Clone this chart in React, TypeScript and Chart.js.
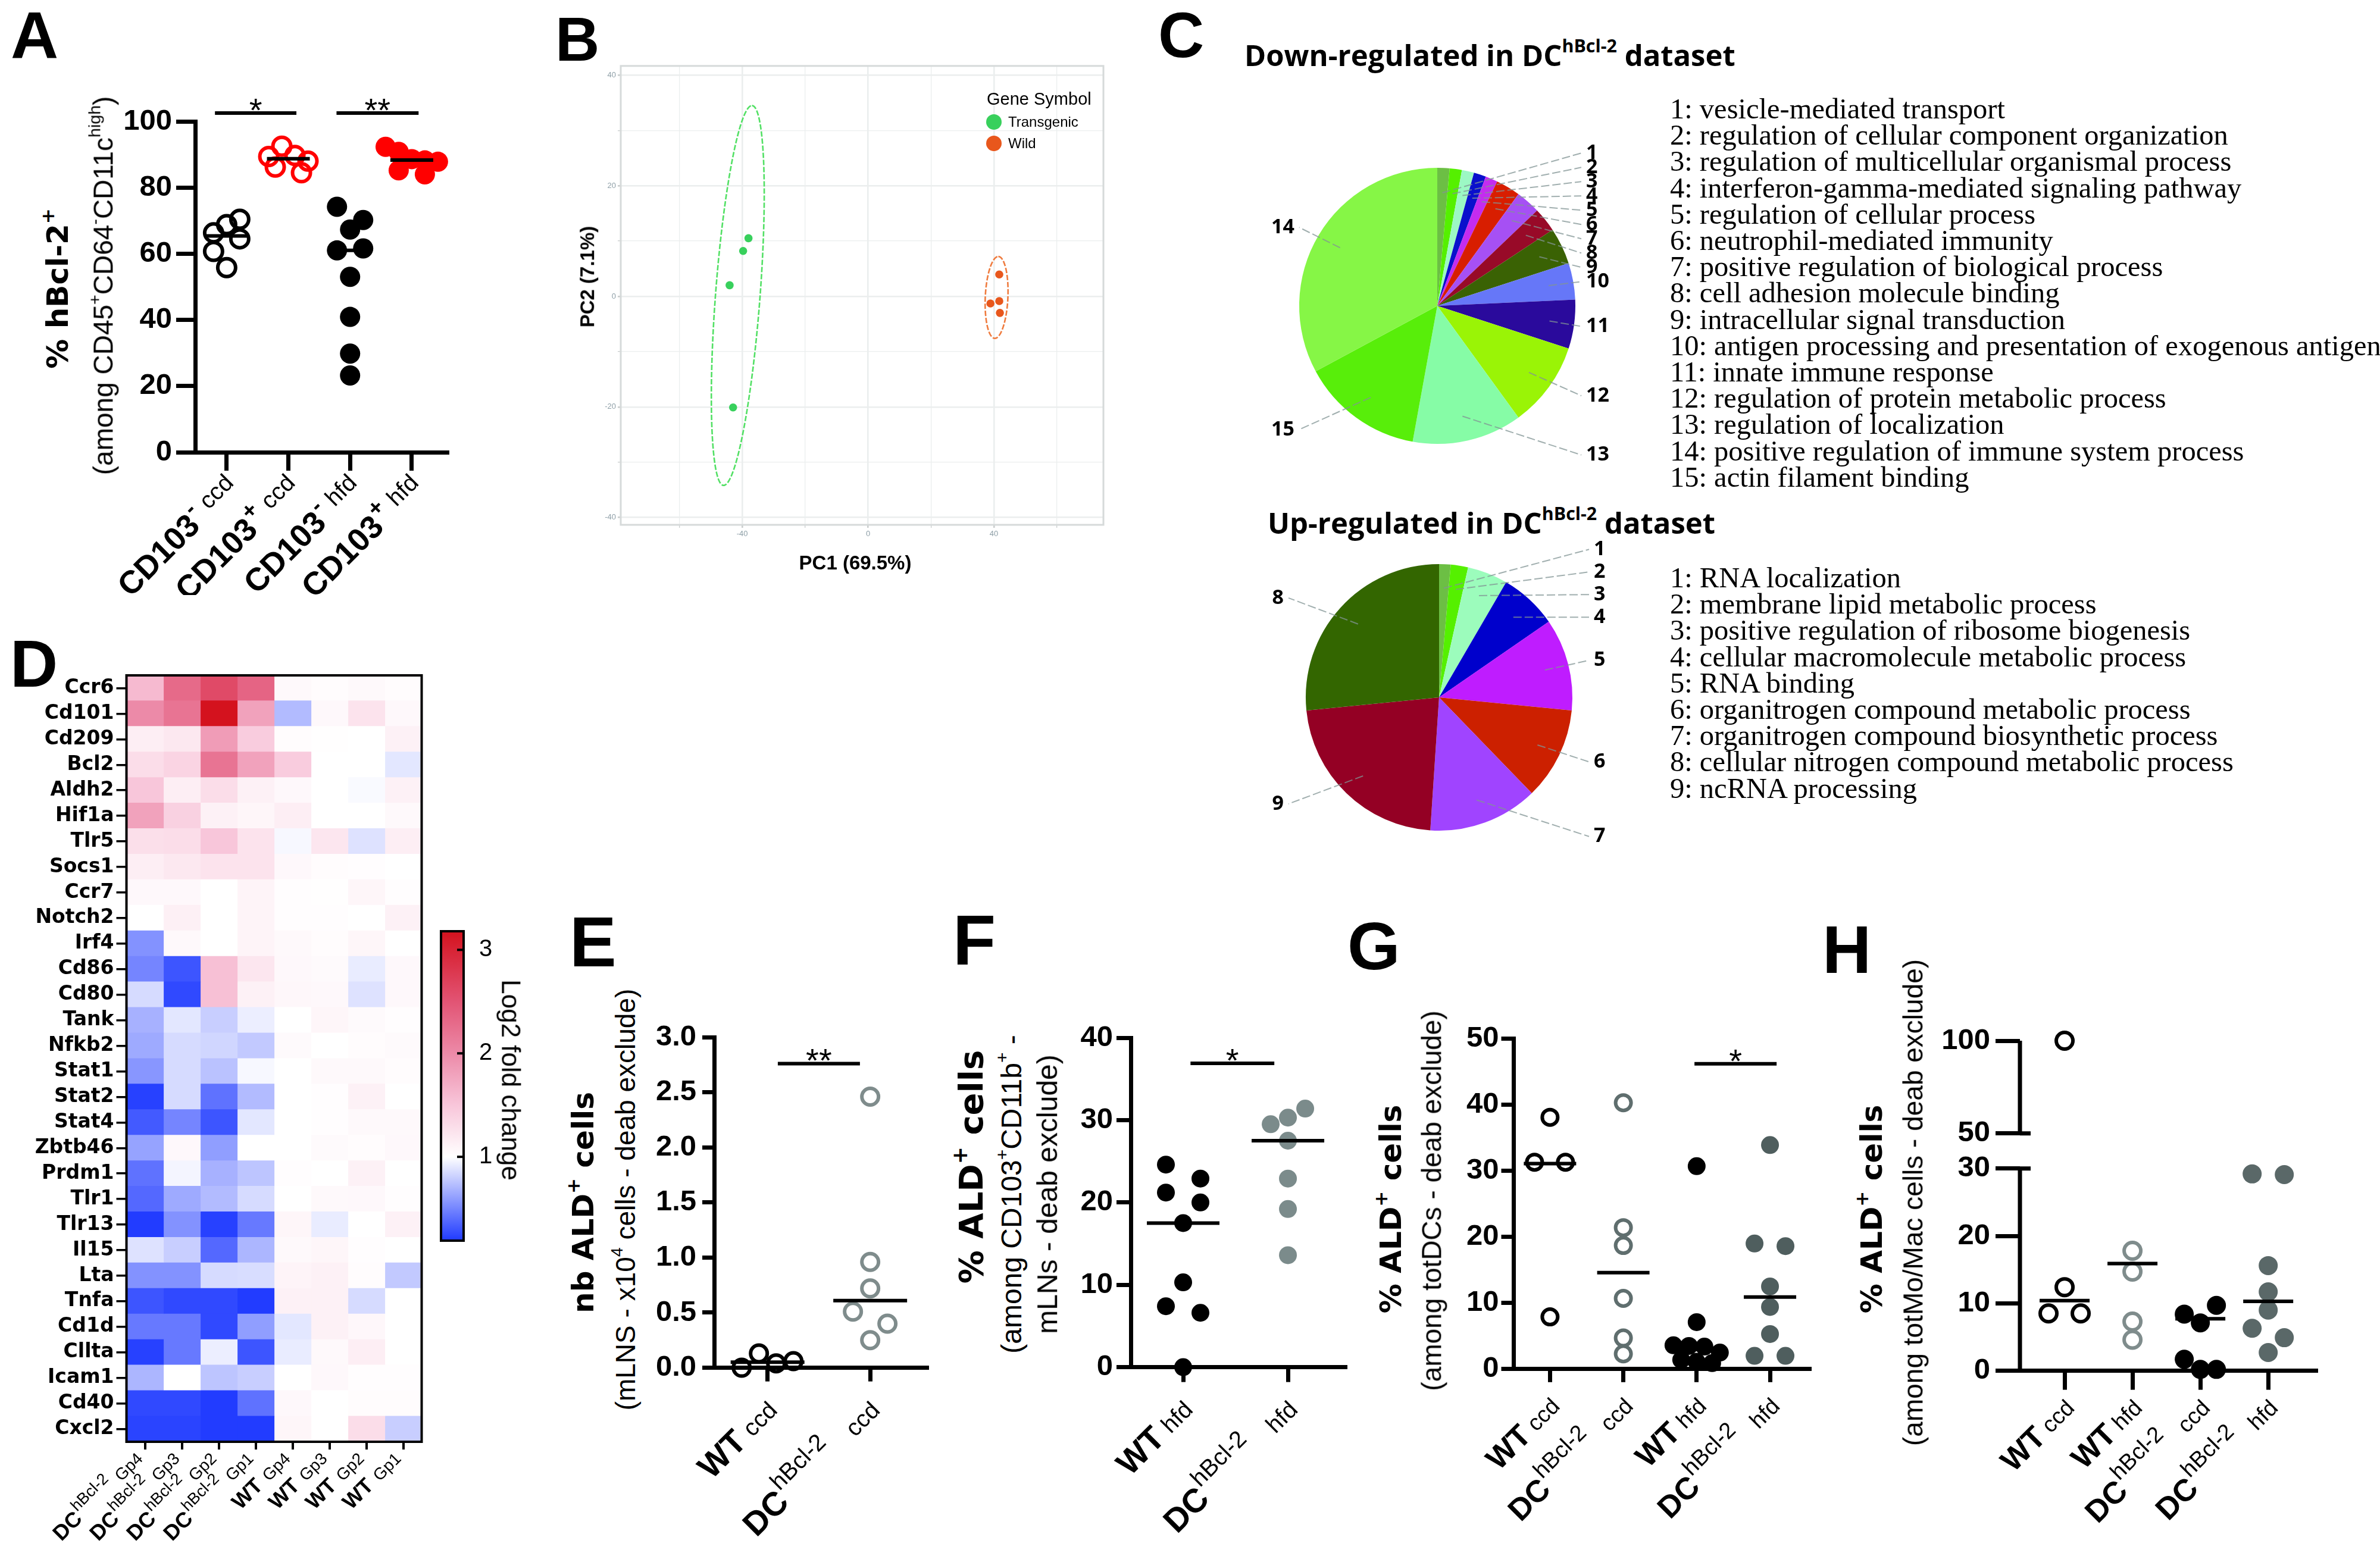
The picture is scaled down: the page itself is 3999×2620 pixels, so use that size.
import React, { useEffect, useRef } from 'react';
import { Chart, registerables } from 'chart.js';
Chart.register(...registerables);

const SANS = "'Liberation Sans', Arial, Helvetica, sans-serif";
const DEJAVU = "'DejaVu Sans', 'Liberation Sans', sans-serif";
const SERIF = "'Liberation Serif', 'Times New Roman', serif";
const OPEN = "'Open Sans', 'Liberation Sans', sans-serif";

// ---------------- Panel A ----------------
const aCd103NegCcd = [66.3, 68.8, 70.4, 60.7, 64.5, 55.8];
const aCd103PosCcd = [89.4, 92.5, 89.7, 88.0, 86.2, 84.5];
const aCd103NegHfd = [74.2, 67.3, 70.2, 61.0, 61.6, 53.0, 40.9, 29.8, 23.2];
const aCd103PosHfd = [92.3, 90.8, 88.6, 88.2, 87.8, 85.2, 84.0];
const aMedians = [65.4, 88.7, 61.0, 88.3];
const aTickMain = ['CD103', 'CD103', 'CD103', 'CD103'];
const aTickSup = ['-', '+', '-', '+'];
const aTickDiet = ['ccd', 'ccd', 'hfd', 'hfd'];
const aYTicks = [0, 20, 40, 60, 80, 100];
const aSig = [
  { from: -0.19, to: 1.13, y: 102.5, text: '*' },
  { from: 1.78, to: 3.11, y: 102.5, text: '**' },
];

// ---------------- Panel B ----------------
const bTransgenicPC1 = [-38.0, -39.7, -44.0, -42.9];
const bTransgenicPC2 = [10.5, 8.2, 2.0, -20.1];
const bWildPC1 = [41.7, 38.9, 41.7, 41.9];
const bWildPC2 = [3.95, -1.3, -0.86, -3.0];
const bXTicks = [-60, -40, -20, 0, 20, 40, 60];
const bYTicks = [-40, -30, -20, -10, 0, 10, 20, 30, 40];
const bEllipseTransgenic = { cx: -41.4, cy: 0.15, ux: 4.5, uy: 34.35, vx: 7.1, vy: 0 };
const bEllipseWild = { cx: 40.85, cy: -0.2, ux: 0.55, uy: 7.4, vx: 3.6, vy: 0 };

// ---------------- Panel C ----------------
const cDownTerms = [
  'vesicle-mediated transport',
  'regulation of cellular component organization',
  'regulation of multicellular organismal process',
  'interferon-gamma-mediated signaling pathway',
  'regulation of cellular process',
  'neutrophil-mediated immunity',
  'positive regulation of biological process',
  'cell adhesion molecule binding',
  'intracellular signal transduction',
  'antigen processing and presentation of exogenous antigen',
  'innate immune response',
  'regulation of protein metabolic process',
  'regulation of localization',
  'positive regulation of immune system process',
  'actin filament binding',
];
const cDownSliceIds = [1, 2, 3, 4, 5, 6, 7, 8, 9, 10, 11, 12, 13, 15, 14];
const cDownCounts = [1, 1, 1, 1, 1, 2, 2, 2, 3, 3, 4, 7, 9, 10, 23];
const cDownColors = ['#6cbf44', '#55f000', '#9cf8c4', '#0a10cc', '#c42cf0', '#d81e00', '#a650f4', '#980a28', '#3a6204', '#6677f8', '#2a0a9c', '#9af406', '#86fca6', '#58ee0a', '#86f646'];
const cUpTerms = [
  'RNA localization',
  'membrane lipid metabolic process',
  'positive regulation of ribosome biogenesis',
  'cellular macromolecule metabolic process',
  'RNA binding',
  'organitrogen compound metabolic process',
  'organitrogen compound biosynthetic process',
  'cellular nitrogen compound metabolic process',
  'ncRNA processing',
];
const cUpSliceIds = [1, 2, 3, 4, 5, 6, 7, 9, 8];
const cUpCounts = [2, 3, 7, 10, 16, 16, 19, 32, 38];
const cUpColors = ['#6cbf44', '#55f000', '#9cfcbc', '#0000cc', '#bf1cff', '#cc2000', '#a044ff', '#940024', '#336600'];

// ---------------- Panel D ----------------
const heatGenes = ['Ccr6', 'Cd101', 'Cd209', 'Bcl2', 'Aldh2', 'Hif1a', 'Tlr5', 'Socs1', 'Ccr7', 'Notch2', 'Irf4', 'Cd86', 'Cd80', 'Tank', 'Nfkb2', 'Stat1', 'Stat2', 'Stat4', 'Zbtb46', 'Prdm1', 'Tlr1', 'Tlr13', 'Il15', 'Lta', 'Tnfa', 'Cd1d', 'Cllta', 'Icam1', 'Cd40', 'Cxcl2'];
const dcGp4 = [1.6, 2.0, 1.15, 1.3, 1.5, 1.8, 1.28, 1.15, 1.06, 1.0, 0.55, 0.5, 0.85, 0.68, 0.65, 0.57, 0.22, 0.32, 0.62, 0.42, 0.38, 0.2, 0.88, 0.55, 0.3, 0.45, 0.22, 0.7, 0.25, 0.23];
const dcGp3 = [2.3, 2.2, 1.2, 1.38, 1.15, 1.4, 1.3, 1.2, 1.06, 1.13, 1.05, 0.3, 0.25, 0.9, 0.85, 0.85, 0.85, 0.5, 1.06, 0.96, 0.65, 0.55, 0.8, 0.55, 0.25, 0.45, 0.45, 1.0, 0.25, 0.23];
const dcGp2 = [2.6, 3.2, 1.85, 2.2, 1.3, 1.12, 1.5, 1.25, 1.0, 1.0, 1.0, 1.55, 1.55, 0.8, 0.83, 0.75, 0.42, 0.3, 0.6, 0.68, 0.72, 0.22, 0.38, 0.85, 0.25, 0.25, 0.93, 0.76, 0.2, 0.2];
const dcGp1 = [2.35, 1.8, 1.45, 1.8, 1.12, 1.08, 1.25, 1.25, 1.1, 1.1, 1.1, 1.22, 1.12, 0.93, 0.78, 0.97, 0.72, 0.9, 1.0, 0.76, 0.85, 0.45, 0.7, 0.86, 0.2, 0.6, 0.3, 0.8, 0.42, 0.2];
const wtGp4 = [1.05, 0.72, 1.03, 1.45, 1.06, 1.15, 0.97, 1.06, 1.02, 1.02, 1.05, 1.06, 1.07, 1.0, 1.04, 1.0, 1.0, 1.0, 1.0, 1.02, 1.0, 1.08, 1.05, 1.1, 1.12, 0.9, 0.92, 1.0, 1.06, 1.08];
const wtGp3 = [1.03, 1.06, 1.01, 1.0, 1.0, 1.0, 1.22, 1.03, 1.01, 1.02, 1.03, 1.04, 1.06, 1.08, 1.0, 1.05, 1.02, 1.02, 1.04, 1.0, 1.05, 0.92, 1.08, 1.12, 1.12, 1.12, 1.05, 1.06, 1.0, 1.0];
const wtGp2 = [1.05, 1.25, 1.0, 1.0, 0.98, 1.0, 0.88, 1.02, 1.08, 1.0, 1.08, 0.92, 0.88, 1.04, 1.03, 1.05, 1.12, 1.05, 1.03, 1.12, 1.06, 1.0, 1.02, 1.03, 0.85, 1.07, 1.15, 1.02, 1.03, 1.3];
const wtGp1 = [1.03, 1.06, 1.12, 0.9, 1.12, 1.05, 1.15, 1.0, 1.02, 1.12, 1.0, 1.06, 1.06, 1.02, 1.04, 1.03, 1.0, 1.05, 1.06, 1.0, 1.02, 1.12, 1.0, 0.78, 1.0, 1.0, 1.0, 1.02, 1.03, 0.8];
const heatColMain = ['DC', 'DC', 'DC', 'DC', 'WT', 'WT', 'WT', 'WT'];
const heatColSup = ['hBcl-2', 'hBcl-2', 'hBcl-2', 'hBcl-2', '', '', '', ''];
const heatColGroup = ['Gp4', 'Gp3', 'Gp2', 'Gp1', 'Gp4', 'Gp3', 'Gp2', 'Gp1'];
const cbMin = 0.19;
const cbMax = 3.18;
const cbTicks = [1, 2, 3];
const heatStops: [number, number[]][] = [
  [0.19, [31, 58, 255]],
  [1.0, [255, 255, 255]],
  [1.5, [248, 198, 218]],
  [2.0, [236, 138, 168]],
  [2.5, [226, 84, 116]],
  [3.18, [212, 18, 30]],
];

// ---------------- Panel E ----------------
const eWtCcd = [0.0, 0.13, 0.04, 0.06];
const eDcCcd = [2.46, 0.96, 0.72, 0.51, 0.40, 0.25];
const eMedians = [0.05, 0.61];
const eTickMain = ['WT', 'DC'];
const eTickSup = ['', 'hBcl-2'];
const eTickDiet = ['ccd', 'ccd'];
const eYTicks = [0, 0.5, 1.0, 1.5, 2.0, 2.5, 3.0];
const eSig = [{ from: 0.1, to: 0.9, y: 2.76, text: '**' }];

// ---------------- Panel F ----------------
const fWtHfd = [24.6, 22.9, 21.2, 20.0, 17.5, 10.3, 7.4, 6.6, 0.0];
const fDcHfd = [29.5, 30.3, 31.4, 27.5, 22.9, 19.2, 13.6];
const fMedians = [17.5, 27.5];
const fTickMain = ['WT', 'DC'];
const fTickSup = ['', 'hBcl-2'];
const fTickDiet = ['hfd', 'hfd'];
const fYTicks = [0, 10, 20, 30, 40];
const fSig = [{ from: 0.07, to: 0.87, y: 36.9, text: '*' }];

// ---------------- Panel G ----------------
const gWtCcd = [31.3, 38.1, 31.3, 7.9];
const gDcCcd = [40.3, 21.4, 18.7, 10.7, 4.7, 2.3];
const gWtHfd = [30.7, 7.1, 3.6, 3.5, 3.4, 2.5, 1.4, 1.1, 0.9];
const gDcHfd = [33.9, 19.0, 18.6, 12.5, 9.4, 5.3, 2.0, 2.0];
const gMedians = [31.1, 14.6, 2.95, 10.9];
const gTickMain = ['WT', 'DC', 'WT', 'DC'];
const gTickSup = ['', 'hBcl-2', '', 'hBcl-2'];
const gTickDiet = ['ccd', 'ccd', 'hfd', 'hfd'];
const gYTicks = [0, 10, 20, 30, 40, 50];
const gSig = [{ from: 1.97, to: 3.09, y: 46.2, text: '*' }];

// ---------------- Panel H ----------------
const hWtCcd = [12.4, 8.5, 8.5, 100];
const hWtHfd = [17.8, 14.7, 7.3, 4.6];
const hDcCcd = [8.4, 9.7, 7.1, 1.7, 0.2, 0.2];
const hDcHfd = [29.2, 29.1, 15.6, 11.7, 9.0, 6.3, 4.9, 2.7];
const hMedians = [10.4, 15.9, 7.7, 10.3];
const hTickMain = ['WT', 'WT', 'DC', 'DC'];
const hTickSup = ['', '', 'hBcl-2', 'hBcl-2'];
const hTickDiet = ['ccd', 'hfd', 'ccd', 'hfd'];
const hLowTicks = [0, 10, 20, 30];
const hHighTicks = [50, 100];

// ---------------- helpers ----------------
function heatColor(v: number) {
  const x = Math.max(heatStops[0][0], Math.min(heatStops[heatStops.length - 1][0], v));
  for (let i = 0; i < heatStops.length - 1; i++) {
    const [v0, c0] = heatStops[i];
    const [v1, c1] = heatStops[i + 1];
    if (x >= v0 && x <= v1) {
      const t = (x - v0) / (v1 - v0);
      const c = c0.map((k, j) => Math.round(k + (c1[j] - k) * t));
      return `rgb(${c[0]},${c[1]},${c[2]})`;
    }
  }
  return '#fff';
}

function swarm(values: number[], pxPerUnit: number, thresh: number, step: number) {
  const order = values.map((_, i) => i).sort((a, b) => values[b] - values[a]);
  const rows: number[][] = [];
  let cur: number[] = [];
  let start = 0;
  order.forEach((i) => {
    if (cur.length && (start - values[i]) * pxPerUnit < thresh) cur.push(i);
    else {
      if (cur.length) rows.push(cur);
      cur = [i];
      start = values[i];
    }
  });
  if (cur.length) rows.push(cur);
  const off = new Array(values.length).fill(0);
  rows.forEach((r) => {
    const m = [...r].sort((a, b) => a - b);
    const n = m.length;
    m.forEach((idx, k) => {
      off[idx] = n === 2 ? (k === 0 ? -step : step) : (k - (n - 1) / 2) * step;
    });
  });
  return off;
}

type Seg = { text: string; font: string; dy?: number; gap?: number };
function drawRich(ctx: any, x: number, y: number, segs: Seg[], angle: number) {
  ctx.save();
  ctx.translate(x, y);
  ctx.rotate(angle);
  ctx.textAlign = 'left';
  ctx.textBaseline = 'alphabetic';
  ctx.fillStyle = '#000';
  const widths = segs.map((s) => {
    ctx.font = s.font;
    return ctx.measureText(s.text).width;
  });
  const total = segs.reduce((acc, s, i) => acc + (s.gap || 0) + widths[i], 0);
  let cx = -total;
  segs.forEach((s, i) => {
    cx += s.gap || 0;
    ctx.font = s.font;
    ctx.fillText(s.text, cx, s.dy || 0);
    cx += widths[i];
  });
  ctx.restore();
}

function labelSegs(main: string, sup: string, diet: string, st: any): Seg[] {
  const segs: Seg[] = [{ text: main, font: st.main }];
  if (sup) segs.push({ text: sup, font: st.sup, dy: st.supDy, gap: 2 });
  segs.push({ text: diet, font: st.diet, dy: st.dietDy, gap: sup ? st.gapSup : st.gapNoSup });
  return segs;
}

const styleA = { main: `bold 54px ${SANS}`, sup: `bold 38px ${SANS}`, diet: `40px ${SANS}`, supDy: -24, dietDy: -12, gapSup: 14, gapNoSup: 14, dx: 22, dy: 62 };
const styleEF = { main: `bold 56px ${SANS}`, sup: `40px ${SANS}`, diet: `40px ${SANS}`, supDy: -28, dietDy: -2, gapSup: 40, gapNoSup: 12, dx: 20, dy: 75 };
const styleGH = { main: `bold 52px ${SANS}`, sup: `38px ${SANS}`, diet: `38px ${SANS}`, supDy: -26, dietDy: -2, gapSup: 28, gapNoSup: 10, dx: 20, dy: 66 };
const styleD = { main: `bold 36px ${SANS}`, sup: `27px ${SANS}`, diet: `28px ${SANS}`, supDy: -17, dietDy: 0, gapSup: 12, gapNoSup: 12, dx: -2, dy: 30 };

const baseOpts = {
  animation: false,
  responsive: false,
  devicePixelRatio: 1,
  events: [],
};

// ---------------- scatter panels ----------------
function scatterConfig(s: any) {
  const [bl, bt, bw, bh] = s.box;
  const [al, at, ar, ab] = s.area;
  const br = s.broken;
  const yPx = br ? br.lowPx / br.lowMax : (ab - at) / (s.yMax - s.yMin);
  const datasets: any[] = [];
  s.groups.forEach((g: any, gi: number) => {
    const offs = swarm(g.values, yPx, s.swarmThresh, s.swarmStep);
    const pts = g.values.map((v: number, i: number) => ({ x: gi + offs[i] / s.catPx, y: v }));
    const st = {
      pointRadius: g.r,
      pointHoverRadius: g.r,
      pointBackgroundColor: g.filled ? g.color : 'rgba(0,0,0,0)',
      pointBorderColor: g.color,
      pointBorderWidth: g.filled ? 0 : g.bw,
      clip: false,
      showLine: false,
    };
    if (br) {
      datasets.push({ data: pts.filter((p: any) => p.y <= br.lowMax), yAxisID: 'y', ...st });
      datasets.push({ data: pts.filter((p: any) => p.y > br.lowMax), yAxisID: 'yHigh', ...st });
    } else datasets.push({ data: pts, ...st });
  });

  const yAxis = (min: number, max: number, ticks: number[], extra: any) => ({
    type: 'linear',
    position: 'left',
    min,
    max,
    afterBuildTicks: (sc: any) => {
      sc.ticks = ticks.map((v) => ({ value: v }));
    },
    afterFit: (sc: any) => {
      sc.width = al - bl;
    },
    grid: { display: true, drawOnChartArea: false, drawTicks: true, tickLength: s.yTickLen, lineWidth: 7, tickWidth: 7, color: '#000', tickColor: '#000' },
    border: { display: !br, width: 7, color: '#000' },
    ticks: { font: { family: SANS, weight: 'bold', size: 49 }, color: '#000', padding: s.yTickPad, autoSkip: false, callback: (v: any) => s.fmt(Number(v)) },
    ...extra,
  });

  const scales: any = {
    x: {
      type: 'linear',
      position: 'bottom',
      min: s.xMin,
      max: s.xMax,
      afterBuildTicks: (sc: any) => {
        sc.ticks = s.ticks.main.map((_: any, i: number) => ({ value: i }));
      },
      afterFit: (sc: any) => {
        sc.height = bt + bh - ab;
      },
      grid: { display: true, drawOnChartArea: false, drawTicks: true, tickLength: s.xTickLen, lineWidth: 7, tickWidth: 7, color: '#000', tickColor: '#000' },
      border: { display: true, width: 7, color: '#000' },
      ticks: { display: false },
    },
  };
  if (br) {
    scales.y = yAxis(0, br.lowMax, br.lowTicks, { stack: 'brk', stackWeight: br.lowPx });
    scales.yHigh = yAxis(br.highMin, br.highMax, br.highTicks, { stack: 'brk', stackWeight: br.highPx });
  } else {
    scales.y = yAxis(s.yMin, s.yMax, s.yTicks, {});
  }

  const deco = {
    id: 'deco',
    afterDatasetsDraw(chart: any) {
      const { ctx, chartArea: a } = chart;
      const xs = chart.scales.x;
      const ys = chart.scales.y;
      ctx.save();
      ctx.strokeStyle = '#000';
      ctx.fillStyle = '#000';
      ctx.lineCap = 'butt';
      if (br) {
        const yh = chart.scales.yHigh;
        ctx.lineWidth = 7;
        ctx.beginPath();
        ctx.moveTo(a.left, ys.getPixelForValue(0) + 3.5);
        ctx.lineTo(a.left, ys.getPixelForValue(br.lowMax));
        ctx.moveTo(a.left, yh.getPixelForValue(br.highTicks[0]));
        ctx.lineTo(a.left, yh.getPixelForValue(br.highMax));
        ctx.stroke();
        ctx.beginPath();
        ctx.moveTo(a.left, ys.getPixelForValue(br.lowMax));
        ctx.lineTo(a.left + 18, ys.getPixelForValue(br.lowMax));
        ctx.moveTo(a.left, yh.getPixelForValue(br.highTicks[0]));
        ctx.lineTo(a.left + 18, yh.getPixelForValue(br.highTicks[0]));
        ctx.stroke();
      }
      s.medians.forEach((m: number, i: number) => {
        const py = ys.getPixelForValue(m);
        const px = xs.getPixelForValue(i);
        ctx.lineWidth = 6;
        ctx.beginPath();
        ctx.moveTo(px - s.medHalf, py);
        ctx.lineTo(px + s.medHalf, py);
        ctx.stroke();
      });
      s.sig.forEach((g: any) => {
        const py = ys.getPixelForValue(g.y);
        ctx.lineWidth = 6;
        ctx.beginPath();
        ctx.moveTo(xs.getPixelForValue(g.from), py);
        ctx.lineTo(xs.getPixelForValue(g.to), py);
        ctx.stroke();
        ctx.font = `56px ${SANS}`;
        ctx.textAlign = 'center';
        ctx.textBaseline = 'alphabetic';
        ctx.fillText(g.text, xs.getPixelForValue((g.from + g.to) / 2), py + 14);
      });
      const lab = s.label;
      s.ticks.main.forEach((m: string, i: number) => {
        drawRich(ctx, xs.getPixelForValue(i) + lab.dx, a.bottom + lab.dy, labelSegs(m, s.ticks.sup[i], s.ticks.diet[i], lab), -Math.PI / 4);
      });
      ctx.restore();
    },
  };

  return {
    type: 'scatter',
    data: { datasets },
    options: {
      ...baseOpts,
      layout: { padding: { left: 0, top: at - bt, right: bl + bw - ar, bottom: 0 } },
      plugins: { legend: { display: false }, tooltip: { enabled: false } },
      scales,
    },
    plugins: [deco],
  };
}

const specA = {
  box: [190, 150, 600, 850], area: [328, 204, 751, 760],
  xMin: -0.51, xMax: 3.57, catPx: 103.7,
  yMin: 0, yMax: 100, yTicks: aYTicks, fmt: (v: number) => String(v),
  yTickLen: 32, yTickPad: 7, xTickLen: 31,
  groups: [
    { values: aCd103NegCcd, color: '#000000', filled: false, r: 15, bw: 6 },
    { values: aCd103PosCcd, color: '#ff0000', filled: false, r: 15, bw: 6 },
    { values: aCd103NegHfd, color: '#000000', filled: true, r: 17 },
    { values: aCd103PosHfd, color: '#ff0000', filled: true, r: 17 },
  ],
  medians: aMedians, medHalf: 36, sig: aSig,
  ticks: { main: aTickMain, sup: aTickSup, diet: aTickDiet }, label: styleA,
  swarmStep: 22, swarmThresh: 30,
};
const specE = {
  box: [1080, 1700, 500, 920], area: [1200, 1743, 1557, 2298.6],
  xMin: -0.52, xMax: 1.55, catPx: 172.6,
  yMin: 0, yMax: 3, yTicks: eYTicks, fmt: (v: number) => v.toFixed(1),
  yTickLen: 20, yTickPad: 10, xTickLen: 23,
  groups: [
    { values: eWtCcd, color: '#000000', filled: false, r: 14, bw: 6 },
    { values: eDcCcd, color: '#7f8c8c', filled: false, r: 14, bw: 6 },
  ],
  medians: eMedians, medHalf: 62, sig: eSig,
  ticks: { main: eTickMain, sup: eTickSup, diet: eTickDiet }, label: styleEF,
  swarmStep: 29, swarmThresh: 26,
};
const specF = {
  box: [1780, 1700, 500, 920], area: [1900, 1744, 2260, 2297.6],
  xMin: -0.5, xMax: 1.545, catPx: 176,
  yMin: 0, yMax: 40, yTicks: fYTicks, fmt: (v: number) => String(v),
  yTickLen: 24, yTickPad: 6, xTickLen: 25,
  groups: [
    { values: fWtHfd, color: '#000000', filled: true, r: 15 },
    { values: fDcHfd, color: '#7b8b8b', filled: true, r: 15 },
  ],
  medians: fMedians, medHalf: 61, sig: fSig,
  ticks: { main: fTickMain, sup: fTickSup, diet: fTickDiet }, label: styleEF,
  swarmStep: 29, swarmThresh: 29,
};
const specG = {
  box: [2430, 1700, 630, 920], area: [2543.5, 1745.5, 3040.6, 2300.8],
  xMin: -0.494, xMax: 3.54, catPx: 123.3,
  yMin: 0, yMax: 50, yTicks: gYTicks, fmt: (v: number) => String(v),
  yTickLen: 21, yTickPad: 4, xTickLen: 22,
  groups: [
    { values: gWtCcd, color: '#000000', filled: false, r: 13, bw: 6 },
    { values: gDcCcd, color: '#5f6e6e', filled: false, r: 13, bw: 6 },
    { values: gWtHfd, color: '#000000', filled: true, r: 15 },
    { values: gDcHfd, color: '#4f5e5e', filled: true, r: 15 },
  ],
  medians: gMedians, medHalf: 44, sig: gSig,
  ticks: { main: gTickMain, sup: gTickSup, diet: gTickDiet }, label: styleGH,
  swarmStep: 26, swarmThresh: 24,
};
const specH = {
  box: [3240, 1700, 680, 920], area: [3394, 1749, 3891, 2303.6],
  xMin: -0.658, xMax: 3.7, catPx: 114,
  broken: { lowMax: 30, lowTicks: hLowTicks, lowPx: 339.6, highMin: 31.1, highMax: 100, highTicks: hHighTicks, highPx: 214.6 },
  fmt: (v: number) => String(v),
  yTickLen: 41, yTickPad: 9, xTickLen: 32,
  groups: [
    { values: hWtCcd, color: '#000000', filled: false, r: 14, bw: 6 },
    { values: hWtHfd, color: '#7f8c8c', filled: false, r: 14, bw: 6 },
    { values: hDcCcd, color: '#000000', filled: true, r: 16 },
    { values: hDcHfd, color: '#5a6868', filled: true, r: 16 },
  ],
  medians: hMedians, medHalf: 42, sig: [],
  ticks: { main: hTickMain, sup: hTickSup, diet: hTickDiet }, label: styleGH,
  swarmStep: 27, swarmThresh: 26,
};

// ---------------- Panel B ----------------
function pcaConfig() {
  const [bl, bt, bw, bh] = [960, 100, 920, 880];
  const [al, at, ar, ab] = [1043, 110, 1854, 882];
  const gridCommon = (major: number) => ({
    display: true,
    drawOnChartArea: true,
    drawTicks: true,
    tickLength: 5,
    color: '#ebeeee',
    tickColor: '#c9cdcd',
    lineWidth: (c: any) => (c.tick && Math.abs(c.tick.value) % major === 0 ? 2.6 : 1.3),
  });
  const deco = {
    id: 'pcaDeco',
    beforeDatasetsDraw(chart: any) {
      const { ctx, scales } = chart;
      const xs = scales.x;
      const ys = scales.y;
      ctx.save();
      const ells: any[] = [[bEllipseTransgenic, '#52e064'], [bEllipseWild, '#ef7b3e']];
      ells.forEach(([e, col]) => {
        ctx.beginPath();
        for (let k = 0; k <= 240; k++) {
          const t = (k / 240) * Math.PI * 2;
          const dx = e.cx + e.ux * Math.cos(t) + e.vx * Math.sin(t);
          const dy = e.cy + e.uy * Math.cos(t) + e.vy * Math.sin(t);
          const px = xs.getPixelForValue(dx);
          const py = ys.getPixelForValue(dy);
          if (k) ctx.lineTo(px, py);
          else ctx.moveTo(px, py);
        }
        ctx.strokeStyle = col;
        ctx.lineWidth = 2.6;
        ctx.setLineDash([9, 3]);
        ctx.stroke();
      });
      ctx.restore();
    },
    afterDraw(chart: any) {
      const { ctx, chartArea: a } = chart;
      ctx.save();
      ctx.strokeStyle = '#d6dada';
      ctx.lineWidth = 3;
      ctx.strokeRect(a.left, a.top, a.right - a.left, a.bottom - a.top);
      ctx.restore();
    },
  };
  return {
    type: 'scatter',
    data: {
      datasets: [
        { label: 'Transgenic', data: bTransgenicPC1.map((x, i) => ({ x, y: bTransgenicPC2[i] })), pointRadius: 6.8, pointBackgroundColor: '#38d05c', pointBorderWidth: 0 },
        { label: 'Wild', data: bWildPC1.map((x, i) => ({ x, y: bWildPC2[i] })), pointRadius: 6.8, pointBackgroundColor: '#e8571c', pointBorderWidth: 0 },
      ],
    },
    options: {
      ...baseOpts,
      layout: { padding: { left: 0, top: at - bt, right: bl + bw - ar, bottom: 0 } },
      plugins: { legend: { display: false }, tooltip: { enabled: false } },
      scales: {
        x: {
          type: 'linear', min: -78.6, max: 74.8,
          afterBuildTicks: (sc: any) => { sc.ticks = bXTicks.map((v) => ({ value: v })); },
          afterFit: (sc: any) => { sc.height = bt + bh - ab; },
          grid: gridCommon(40),
          border: { display: false },
          ticks: { autoSkip: false, maxRotation: 0, padding: 3, color: '#8fa0a8', font: { family: SANS, size: 13 }, callback: (v: any) => (Number(v) % 40 === 0 ? String(v) : '') },
        },
        y: {
          type: 'linear', min: -41.33, max: 41.67,
          afterBuildTicks: (sc: any) => { sc.ticks = bYTicks.map((v) => ({ value: v })); },
          afterFit: (sc: any) => { sc.width = al - bl; },
          grid: gridCommon(20),
          border: { display: false },
          ticks: { autoSkip: false, padding: 3, color: '#8fa0a8', font: { family: SANS, size: 13 }, callback: (v: any) => (Number(v) % 20 === 0 ? String(v) : '') },
        },
      },
    },
    plugins: [deco],
  };
}

// ---------------- Panel C ----------------
function pieConfig(counts: number[], colors: string[], ids: number[], pad: any, g: any) {
  const labels = {
    id: 'pieLabels',
    afterDraw(chart: any) {
      const ctx = chart.ctx;
      const arcs = chart.getDatasetMeta(0).data as any[];
      const items = arcs.map((arc: any, i: number) => {
        const p = arc.getProps(['x', 'y', 'startAngle', 'endAngle', 'outerRadius'], true);
        const mid = (p.startAngle + p.endAngle) / 2;
        return { id: ids[i], cx: p.x, cy: p.y, r: p.outerRadius, mid, right: Math.cos(mid) >= 0, ny: p.y + (p.outerRadius + g.labelR) * Math.sin(mid), ly: 0 };
      });
      const place = (list: any[]) => {
        list.sort((a, b) => a.ny - b.ny);
        let last = -1e9;
        list.forEach((it) => {
          it.ly = Math.max(it.ny, last + g.spacing);
          last = it.ly;
        });
      };
      place(items.filter((i: any) => i.right));
      place(items.filter((i: any) => !i.right));
      ctx.save();
      items.forEach((it: any) => {
        const lx = it.right ? it.cx + it.r + g.gapR : it.cx - it.r - g.gapL;
        const sx = it.cx + it.r * 0.82 * Math.cos(it.mid);
        const sy = it.cy + it.r * 0.82 * Math.sin(it.mid);
        ctx.beginPath();
        ctx.moveTo(sx, sy);
        ctx.lineTo(it.right ? lx - 8 : lx + 8, it.ly);
        ctx.strokeStyle = 'rgba(130,148,148,0.75)';
        ctx.lineWidth = 2;
        ctx.setLineDash([14, 5]);
        ctx.stroke();
        ctx.setLineDash([]);
        ctx.font = `bold 34px ${OPEN}`;
        ctx.fillStyle = '#000';
        ctx.textBaseline = 'middle';
        ctx.textAlign = it.right ? 'left' : 'right';
        ctx.fillText(String(it.id), lx, it.ly);
      });
      ctx.restore();
    },
  };
  return {
    type: 'pie',
    data: { labels: ids.map(String), datasets: [{ data: counts, backgroundColor: colors, borderWidth: 0 }] },
    options: {
      ...baseOpts,
      layout: { padding: pad },
      plugins: { legend: { display: false }, tooltip: { enabled: false } },
    },
    plugins: [labels],
  };
}

// ---------------- Panel D ----------------
function heatConfig() {
  const cols = [dcGp4, dcGp3, dcGp2, dcGp1, wtGp4, wtGp3, wtGp2, wtGp1];
  const [bl, bt, bw, bh] = [0, 1110, 722, 1510];
  const [al, at, ar, ab] = [212.5, 1135, 708.5, 2423];
  const datasets = cols.map((col, c) => ({
    data: col.map(() => [c, c + 1]),
    backgroundColor: col.map(heatColor),
    borderWidth: 0,
    barPercentage: 1,
    categoryPercentage: 1,
    grouped: false,
    inflateAmount: 0.6,
  }));
  const deco = {
    id: 'heatDeco',
    afterDraw(chart: any) {
      const { ctx, chartArea: a } = chart;
      const xs = chart.scales.x;
      ctx.save();
      ctx.strokeStyle = '#000';
      ctx.lineWidth = 4;
      ctx.strokeRect(a.left, a.top, a.right - a.left, a.bottom - a.top);
      heatColMain.forEach((m, i) => {
        drawRich(ctx, xs.getPixelForValue(i + 0.5) + styleD.dx, a.bottom + styleD.dy, labelSegs(m, heatColSup[i], heatColGroup[i], styleD), -Math.PI / 4);
      });
      ctx.restore();
    },
  };
  return {
    type: 'bar',
    data: { labels: heatGenes, datasets },
    options: {
      ...baseOpts,
      indexAxis: 'y',
      layout: { padding: { left: 0, top: at - bt, right: bl + bw - ar, bottom: 0 } },
      plugins: { legend: { display: false }, tooltip: { enabled: false } },
      scales: {
        x: {
          type: 'linear', min: 0, max: 8, position: 'bottom',
          afterBuildTicks: (sc: any) => { sc.ticks = heatColMain.map((_, i) => ({ value: i + 0.5 })); },
          afterFit: (sc: any) => { sc.height = bt + bh - ab; },
          grid: { display: true, drawOnChartArea: false, drawTicks: true, tickLength: 13, lineWidth: 4, tickWidth: 4, color: '#000' },
          border: { display: false },
          ticks: { display: false },
        },
        y: {
          type: 'category', position: 'left',
          afterFit: (sc: any) => { sc.width = al - bl; },
          grid: { display: true, drawOnChartArea: false, drawTicks: true, tickLength: 17, lineWidth: 3.5, tickWidth: 3.5, color: '#000', offset: false },
          border: { display: false },
          ticks: { autoSkip: false, padding: 4, color: '#000', font: { family: DEJAVU, weight: 'bold', size: 33 } },
        },
      },
    },
    plugins: [deco],
  };
}

function colorbarConfig() {
  const deco = {
    id: 'cbDeco',
    afterDraw(chart: any) {
      const { ctx, chartArea: a } = chart;
      const ys = chart.scales.y;
      ctx.save();
      ctx.strokeStyle = '#000';
      ctx.lineWidth = 4;
      ctx.strokeRect(a.left, a.top, a.right - a.left, a.bottom - a.top);
      cbTicks.forEach((v) => {
        const py = ys.getPixelForValue(v);
        ctx.beginPath();
        ctx.moveTo(a.right - 11, py);
        ctx.lineTo(a.right, py);
        ctx.stroke();
      });
      ctx.restore();
    },
  };
  return {
    type: 'bar',
    data: {
      labels: ['scale'],
      datasets: [{
        data: [[cbMin, cbMax]],
        barPercentage: 1,
        categoryPercentage: 1,
        borderWidth: 0,
        backgroundColor: (c: any) => {
          const ch = c.chart;
          const a = ch.chartArea;
          if (!a) return '#fff';
          const ys = ch.scales.y;
          const g = ch.ctx.createLinearGradient(0, ys.getPixelForValue(cbMin), 0, ys.getPixelForValue(cbMax));
          heatStops.forEach(([v, rgb]) => g.addColorStop((v - cbMin) / (cbMax - cbMin), `rgb(${rgb[0]},${rgb[1]},${rgb[2]})`));
          return g;
        },
      }],
    },
    options: {
      ...baseOpts,
      layout: { padding: { left: 6, top: 20, bottom: 20, right: 0 } },
      plugins: { legend: { display: false }, tooltip: { enabled: false } },
      scales: {
        x: { display: false },
        y: {
          position: 'right', min: cbMin, max: cbMax,
          afterBuildTicks: (sc: any) => { sc.ticks = cbTicks.map((v) => ({ value: v })); },
          afterFit: (sc: any) => { sc.width = 126; },
          grid: { display: false, drawTicks: false },
          border: { display: false },
          ticks: { padding: 26, color: '#000', font: { family: SANS, size: 40 } },
        },
      },
    },
    plugins: [deco],
  };
}

// ---------------- React pieces ----------------
function ChartBox({ left, top, width, height, make }: any) {
  const ref = useRef<HTMLCanvasElement>(null);
  useEffect(() => {
    const chart = new Chart(ref.current as any, make());
    return () => chart.destroy();
  }, []);
  return <canvas ref={ref} width={width} height={height} style={{ position: 'absolute', left, top, width, height }} />;
}

const Sup = ({ children, s = 0.62, r = -0.75 }: any) => (
  <span style={{ fontSize: `${s}em`, position: 'relative', top: `${r}em` }}>{children}</span>
);

const Txt = ({ l, t, fs, fw = 'normal', ff = SANS, children, style }: any) => (
  <div style={{ position: 'absolute', left: l, top: t, fontSize: fs, fontWeight: fw, fontFamily: ff, lineHeight: 1, whiteSpace: 'nowrap', color: '#000', ...style }}>{children}</div>
);

const VTxt = ({ cx, cy, fs, fw = 'normal', ff = SANS, rot = -90, children }: any) => (
  <div style={{ position: 'absolute', left: cx, top: cy, fontSize: fs, fontWeight: fw, fontFamily: ff, lineHeight: 1.2, whiteSpace: 'nowrap', color: '#000', transform: `translate(-50%, -50%) rotate(${rot}deg)` }}>{children}</div>
);

const Letter = ({ l, t, fs, ch }: any) => <Txt l={l} t={t} fs={fs} fw="bold">{ch}</Txt>;

export default function App() {
  return (
    <div style={{ position: 'absolute', left: 0, top: 0, width: 3999, height: 2620, background: '#fff', overflow: 'hidden', fontFamily: SANS }}>
      {/* Panel letters */}
      <Letter l={18} t={5} fs={111} ch="A" />
      <Letter l={933} t={15} fs={103} ch="B" />
      <Letter l={1946} t={6} fs={107} ch="C" />
      <Letter l={17} t={1061} fs={111} ch="D" />
      <Letter l={957} t={1524} fs={118} ch="E" />
      <Letter l={1601} t={1521} fs={118} ch="F" />
      <Letter l={2264} t={1533} fs={114} ch="G" />
      <Letter l={3062} t={1539} fs={114} ch="H" />

      {/* Panel A */}
      <ChartBox left={190} top={150} width={600} height={850} make={() => scatterConfig(specA)} />
      <VTxt cx={97} cy={485} fs={50} fw="bold" ff={DEJAVU}>% hBcl-2<Sup>+</Sup></VTxt>
      <VTxt cx={174} cy={480} fs={46}>(among CD45<Sup>+</Sup>CD64<Sup>-</Sup>CD11c<Sup>high</Sup>)</VTxt>

      {/* Panel B */}
      <ChartBox left={960} top={100} width={920} height={880} make={pcaConfig} />
      <Txt l={1658} t={152} fs={29}>Gene Symbol</Txt>
      <div style={{ position: 'absolute', left: 1657, top: 192, width: 26, height: 26, borderRadius: 13, background: '#38d05c' }} />
      <div style={{ position: 'absolute', left: 1657, top: 228, width: 26, height: 26, borderRadius: 13, background: '#e8571c' }} />
      <Txt l={1694} t={193} fs={24}>Transgenic</Txt>
      <Txt l={1694} t={229} fs={24}>Wild</Txt>
      <Txt l={1437} t={929} fs={33} fw="bold" style={{ transform: 'translateX(-50%)' }}>PC1 (69.5%)</Txt>
      <VTxt cx={987} cy={465} fs={33} fw="bold">PC2 (7.1%)</VTxt>

      {/* Panel C */}
      <Txt l={2091} t={68} fs={49} fw="bold" ff={OPEN}>Down-regulated in DC<Sup>hBcl-2</Sup> dataset</Txt>
      <ChartBox left={2110} top={240} width={620} height={570}
        make={() => pieConfig(cDownCounts, cDownColors, cDownSliceIds, { left: 73, right: 83, top: 42, bottom: 64 }, { gapR: 18, gapL: 8, spacing: 24, labelR: 25 })} />
      <div style={{ position: 'absolute', left: 2806, top: 161, fontFamily: SERIF, fontSize: 48.5, lineHeight: '44.2px', whiteSpace: 'nowrap' }}>
        {cDownTerms.map((t, i) => <div key={i}>{`${i + 1}: ${t}`}</div>)}
      </div>
      <Txt l={2130} t={854} fs={49} fw="bold" ff={OPEN}>Up-regulated in DC<Sup>hBcl-2</Sup> dataset</Txt>
      <ChartBox left={2110} top={880} width={620} height={560}
        make={() => pieConfig(cUpCounts, cUpColors, cUpSliceIds, { left: 84, right: 88, top: 68, bottom: 44 }, { gapR: 36, gapL: 37, spacing: 38, labelR: 25 })} />
      <div style={{ position: 'absolute', left: 2806, top: 949, fontFamily: SERIF, fontSize: 48.5, lineHeight: '44.2px', whiteSpace: 'nowrap' }}>
        {cUpTerms.map((t, i) => <div key={i}>{`${i + 1}: ${t}`}</div>)}
      </div>

      {/* Panel D */}
      <ChartBox left={0} top={1110} width={722} height={1510} make={heatConfig} />
      <ChartBox left={735} top={1515} width={170} height={620} make={colorbarConfig} />
      <VTxt cx={858} cy={1815} fs={44} rot={90}>Log2 fold change</VTxt>

      {/* Panel E */}
      <ChartBox left={1080} top={1700} width={500} height={920} make={() => scatterConfig(specE)} />
      <VTxt cx={980} cy={2021} fs={50} fw="bold" ff={DEJAVU}>nb ALD<Sup>+</Sup> cells</VTxt>
      <VTxt cx={1052} cy={2016} fs={46}>(mLNS - x10<Sup>4</Sup> cells - deab exclude)</VTxt>

      {/* Panel F */}
      <ChartBox left={1780} top={1700} width={500} height={920} make={() => scatterConfig(specF)} />
      <VTxt cx={1632} cy={1961} fs={56} fw="bold" ff={DEJAVU}>% ALD<Sup>+</Sup> cells</VTxt>
      <VTxt cx={1700} cy={2007} fs={48}>(among CD103<Sup>+</Sup>CD11b<Sup>+</Sup> -</VTxt>
      <VTxt cx={1760} cy={2007} fs={48}>mLNs - deab exclude)</VTxt>

      {/* Panel G */}
      <ChartBox left={2430} top={1700} width={630} height={920} make={() => scatterConfig(specG)} />
      <VTxt cx={2337} cy={2032} fs={50} fw="bold" ff={DEJAVU}>% ALD<Sup>+</Sup> cells</VTxt>
      <VTxt cx={2406} cy={2018} fs={46}>(among totDCs - deab exclude)</VTxt>

      {/* Panel H */}
      <ChartBox left={3240} top={1700} width={680} height={920} make={() => scatterConfig(specH)} />
      <VTxt cx={3145} cy={2032} fs={50} fw="bold" ff={DEJAVU}>% ALD<Sup>+</Sup> cells</VTxt>
      <VTxt cx={3215} cy={2021} fs={46}>(among totMo/Mac cells - deab exclude)</VTxt>
    </div>
  );
}
